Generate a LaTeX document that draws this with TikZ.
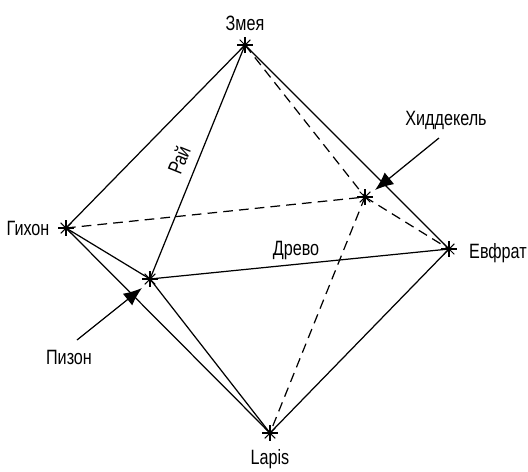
\documentclass[tikz,border=0pt]{standalone}
\usepackage{fontspec}
\setmainfont[FakeStretch=0.78]{Liberation Sans}
\usetikzlibrary{arrows.meta}

\begin{document}
\begin{tikzpicture}[
  x=0.02cm, y=-0.02cm,
  lbl/.style={inner sep=0pt, font=\fontsize{11.8}{13}\selectfont, text=black},
  solidedge/.style={line width=0.7pt},
  dashedge/.style={line width=0.7pt, dash pattern=on 5.5pt off 3.5pt},
  arr/.style={-{Latex[length=10.5pt,width=8.5pt]}, line width=0.7pt,
              preaction={draw=white, line width=3pt}},
  starline/.style={line width=0.6pt}
]
\useasboundingbox (0,0) rectangle (528,471);

\coordinate (zmeya) at (245,45);
\coordinate (gihon) at (66,228);
\coordinate (evfrat) at (449,249);
\coordinate (lapis) at (270,433);
\coordinate (pizon) at (150,279);
\coordinate (hidd) at (365,197);

\coordinate (pizonstart) at (77,340);
\coordinate (pizonend) at (142,288);
\coordinate (hiddstart) at (439,138);
\coordinate (hiddend) at (375,190);

\node[lbl] (Lzmeya) at (245,23) {Змея};
\node[lbl] (Lgihon) at (28,228) {Гихон};
\node[lbl] (Levfrat) at (498,253) {Евфрат};
\node[lbl] (Llapis) at (270,459) {Lapis};
\node[lbl] (Lpizon) at (69,357) {Пизон};
\node[lbl] (Lhidd) at (446,120) {Хиддекель};
\node[lbl, rotate=68] (Lrai) at (179,160) {Рай};
\node[lbl] (Ldrevo) at (296,251) {Древо};

\draw[solidedge] (zmeya) -- (gihon);
\draw[solidedge] (zmeya) -- (pizon);
\draw[solidedge] (zmeya) -- (evfrat);
\draw[solidedge] (gihon) -- (pizon);
\draw[solidedge] (gihon) -- (lapis);
\draw[solidedge] (pizon) -- (evfrat);
\draw[solidedge] (pizon) -- (lapis);
\draw[solidedge] (evfrat) -- (lapis);
\draw[dashedge] (zmeya) -- (hidd);
\draw[dashedge] (gihon) -- (hidd);
\draw[dashedge] (hidd) -- (evfrat);
\draw[dashedge] (hidd) -- (lapis);

\draw[arr] (pizonstart) -- (pizonend);
\draw[arr] (hiddstart) -- (hiddend);

\foreach \v in {zmeya,gihon,evfrat,lapis,pizon,hidd}
  \foreach \a in {0,45,90,135}
    \draw[starline] ([shift={(\a:4.3pt)}]\v) -- ([shift={(\a+180:4.3pt)}]\v);
\end{tikzpicture}
\end{document}
